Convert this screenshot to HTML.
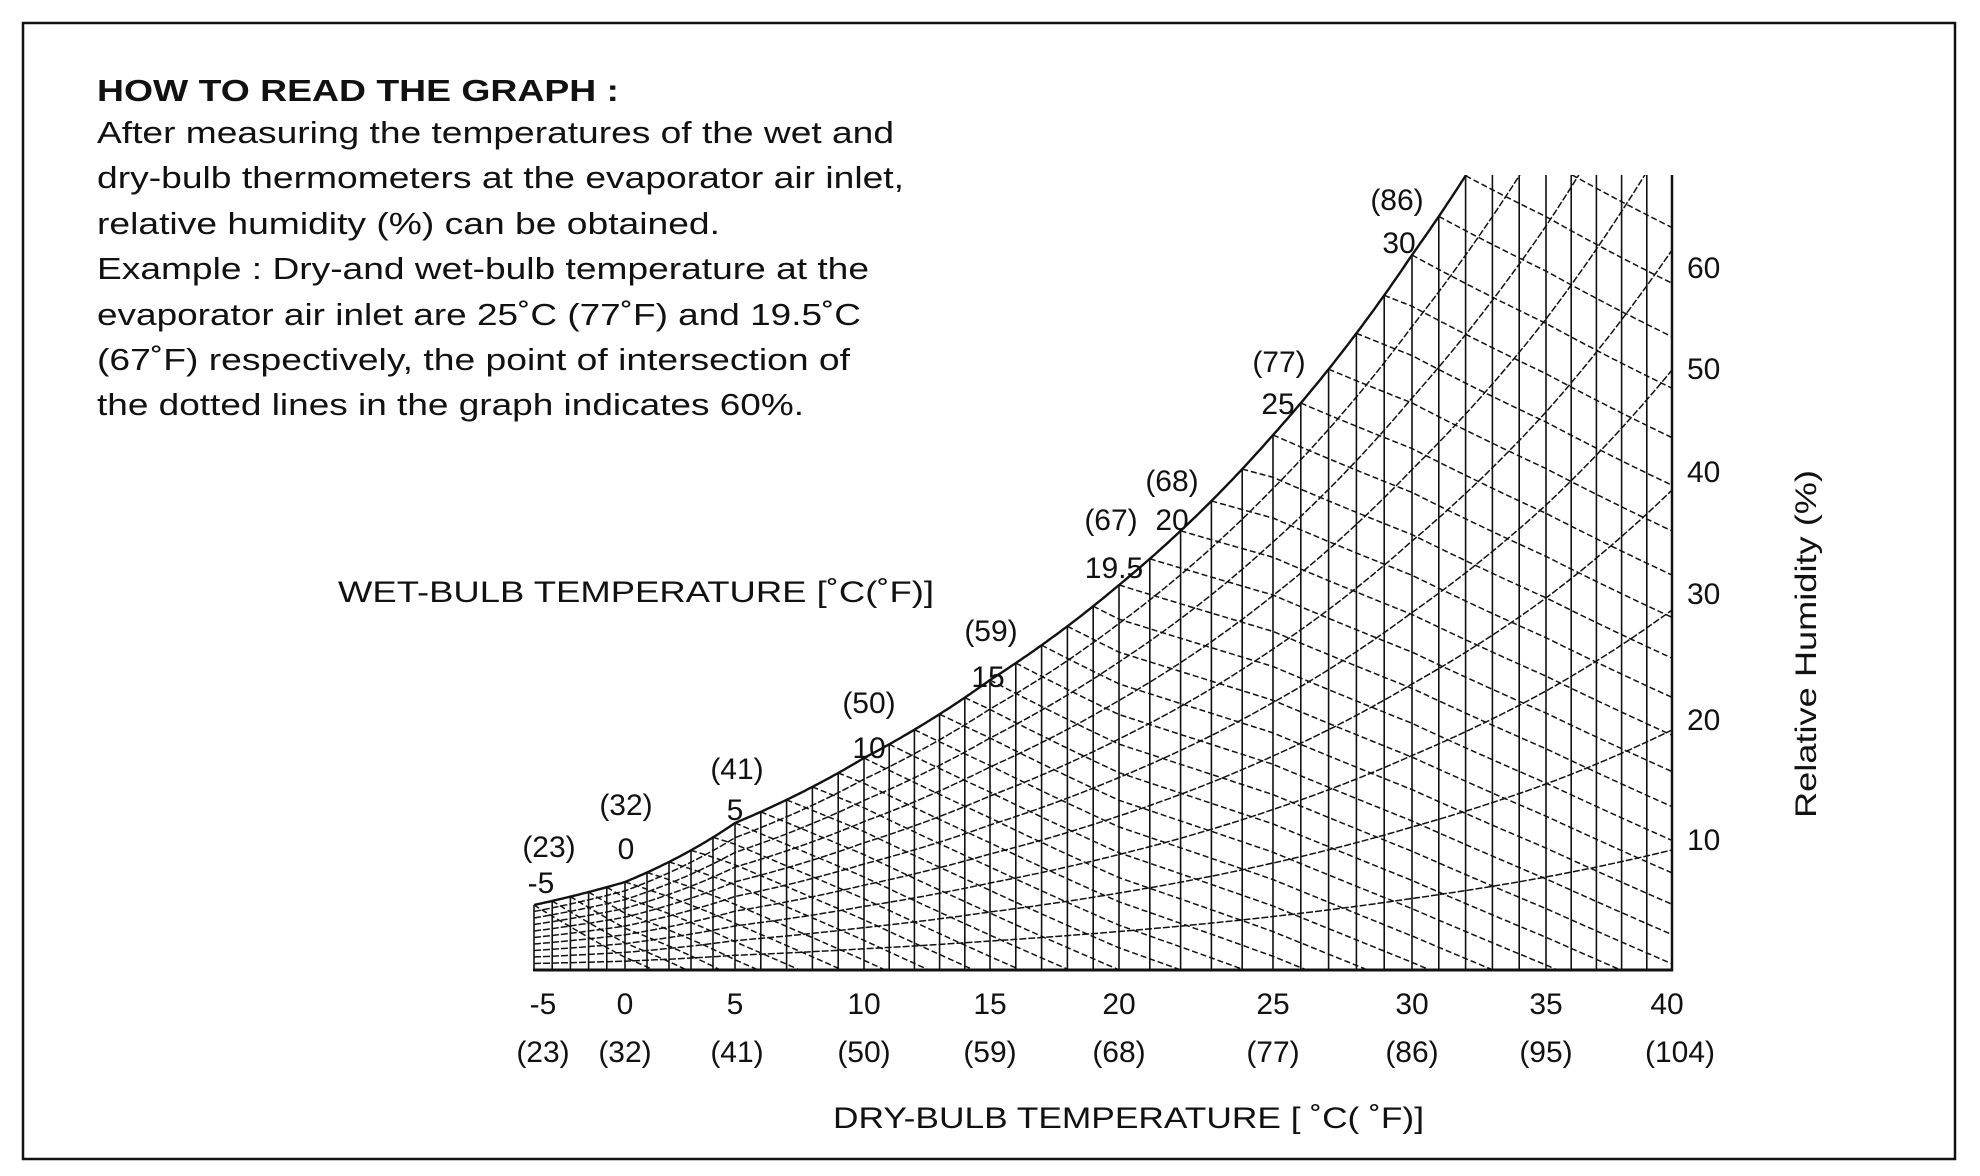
<!DOCTYPE html>
<html><head><meta charset="utf-8"><style>
html,body{margin:0;padding:0;background:#fff}
svg{display:block}
text{font-family:"Liberation Sans",Arial,sans-serif;fill:#111}
</style></head><body>
<svg id="s" width="1980" height="1176" viewBox="0 0 1980 1176" xmlns="http://www.w3.org/2000/svg">
<rect x="23" y="23" width="1932" height="1136" fill="none" stroke="#111" stroke-width="2.5"/>
<g font-size="31">
<text x="97" y="101" font-weight="bold" textLength="522" lengthAdjust="spacingAndGlyphs">HOW TO READ THE GRAPH :</text>
<text x="97" y="143" textLength="797" lengthAdjust="spacingAndGlyphs">After measuring the temperatures of the wet and</text>
<text x="97" y="188" textLength="807" lengthAdjust="spacingAndGlyphs">dry-bulb thermometers at the evaporator air inlet,</text>
<text x="97" y="234" textLength="623" lengthAdjust="spacingAndGlyphs">relative humidity (%) can be obtained.</text>
<text x="97" y="279" textLength="772" lengthAdjust="spacingAndGlyphs">Example : Dry-and wet-bulb temperature at the</text>
<text x="97" y="325" textLength="764" lengthAdjust="spacingAndGlyphs">evaporator air inlet are 25˚C (77˚F) and 19.5˚C</text>
<text x="97" y="370" textLength="753" lengthAdjust="spacingAndGlyphs">(67˚F) respectively, the point of intersection of</text>
<text x="97" y="415" textLength="707" lengthAdjust="spacingAndGlyphs">the dotted lines in the graph indicates 60%.</text>
</g>
<g font-size="30">
<text x="338" y="602" textLength="596" lengthAdjust="spacingAndGlyphs">WET-BULB TEMPERATURE [˚C(˚F)]</text>
<text x="833" y="1128" textLength="591" lengthAdjust="spacingAndGlyphs">DRY-BULB TEMPERATURE [ ˚C( ˚F)]</text>
<text transform="translate(1816,644) rotate(-90)" text-anchor="middle" textLength="348" lengthAdjust="spacingAndGlyphs">Relative Humidity (%)</text>
</g>
<g font-size="30" text-anchor="middle">
<text x="543" y="1014">-5</text><text x="625" y="1014">0</text><text x="735" y="1014">5</text>
<text x="864" y="1014">10</text><text x="990" y="1014">15</text><text x="1119" y="1014">20</text>
<text x="1273" y="1014">25</text><text x="1412" y="1014">30</text><text x="1546" y="1014">35</text>
<text x="1667" y="1014">40</text>
<text x="543" y="1062">(23)</text><text x="625" y="1062">(32)</text><text x="737" y="1062">(41)</text>
<text x="864" y="1062">(50)</text><text x="990" y="1062">(59)</text><text x="1119" y="1062">(68)</text>
<text x="1273" y="1062">(77)</text><text x="1412" y="1062">(86)</text><text x="1546" y="1062">(95)</text>
<text x="1680" y="1062">(104)</text>
<text x="549" y="857">(23)</text><text x="541" y="893">-5</text>
<text x="626" y="815">(32)</text><text x="626" y="859">0</text>
<text x="737" y="779">(41)</text><text x="735" y="820">5</text>
<text x="869" y="713">(50)</text><text x="869" y="758">10</text>
<text x="991" y="641">(59)</text><text x="988" y="687">15</text>
<text x="1172" y="491">(68)</text><text x="1172" y="530">20</text>
<text x="1111" y="530">(67)</text><text x="1114" y="578">19.5</text>
<text x="1279" y="372">(77)</text><text x="1278" y="414">25</text>
<text x="1397" y="210">(86)</text><text x="1399" y="253">30</text>
</g>
<g font-size="30">
<text x="1687" y="278">60</text><text x="1687" y="379">50</text><text x="1687" y="482">40</text>
<text x="1687" y="604">30</text><text x="1687" y="730">20</text><text x="1687" y="850">10</text>
</g>
<defs><clipPath id="c"><rect x="533" y="175" width="1140" height="797"/></clipPath></defs>
<g id="g" clip-path="url(#c)" fill="none" stroke="#111"></g>
<line x1="1672" y1="175" x2="1672" y2="971" stroke="#111" stroke-width="2.5"/>
<line x1="533" y1="970" x2="1673" y2="970" stroke="#111" stroke-width="3"/>
</svg>
<script>
(function(){
var base=970;
var XK=[[-5,534],[0,625],[5,735],[10,864],[15,990],[20,1119],[25,1273],[30,1412],[35,1546],[40,1672]];
var SK=[[-5,65],[0,88],[5,147],[10,212],[15,290],[20,385],[25,535],[30,715],[35,930],[40,1200]];
function seg(K,T){for(var i=0;i<K.length-1;i++){if(T<=K[i+1][0]||i==K.length-2)return i;}return 0;}
function X(T){var i=seg(XK,T),a=XK[i],b=XK[i+1];return a[1]+(b[1]-a[1])*(T-a[0])/(b[0]-a[0]);}
function S(T){var i=seg(SK,T),a=SK[i],b=SK[i+1];var f=(T-a[0])/(b[0]-a[0]);return Math.exp(Math.log(a[1])+(Math.log(b[1])-Math.log(a[1]))*f);}
function P(T){return 0.61078*Math.exp(17.27*T/(T+237.3));}
function Y(T,rh){return base-rh*S(T);}
var g=document.getElementById('g'),ns='http://www.w3.org/2000/svg';
function path(d,w,dash){var p=document.createElementNS(ns,'path');p.setAttribute('d',d);p.setAttribute('stroke-width',w);if(dash)p.setAttribute('stroke-dasharray',dash);g.appendChild(p);}
// vertical lines
for(var t=-5;t<=40;t++){var y=Math.max(175,Y(t,1));path('M'+X(t).toFixed(1)+' '+base+'V'+y.toFixed(1),1.6);}
// saturation curve
var d='';for(var t=-5;t<=40.001;t+=0.1){d+=(d?'L':'M')+X(t).toFixed(1)+' '+Y(t,1).toFixed(1);}path(d,2.4);
// RH curves
for(var r=1;r<=9;r++){d='';for(var t=-5;t<=40.001;t+=0.2){d+=(d?'L':'M')+X(t).toFixed(1)+' '+Y(t,r/10).toFixed(1);}path(d,1.5,'7 2');}
// wet bulb lines
for(var tw=-5;tw<=40;tw++){d='';var pw=P(tw);for(var t=tw;t<=40.001;t+=0.1){var pv=pw-0.0667*(t-tw);var rh=pv/P(t);if(rh<0){rh=0;}d+=(d?'L':'M')+X(t).toFixed(1)+' '+Y(t,rh).toFixed(1);if(rh<=0)break;}path(d,1.5,'6 3');}
// example dashed vertical at 25
})();
</script>
</body></html>
